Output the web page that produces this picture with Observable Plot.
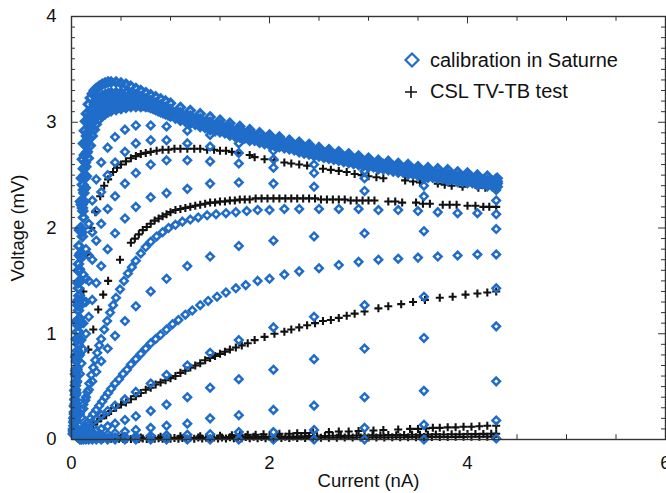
<!DOCTYPE html>
<html><head><meta charset="utf-8">
<script src="https://cdn.jsdelivr.net/npm/d3@7"></script>
<script src="https://cdn.jsdelivr.net/npm/@observablehq/plot@0.6"></script>
<style>
body{margin:0;background:#fff;font-family:"Liberation Sans",Arial,sans-serif;}
#wrap{position:relative;width:666px;height:493px;overflow:hidden;}
.lg{position:absolute;font-size:20px;line-height:20px;color:#111;white-space:nowrap;}
.ic{position:absolute;}
</style></head><body>
<div id="wrap">
  <svg class="ic" style="left:403px;top:51px" width="18" height="18"><polygon points="9,2.5 15.5,9 9,15.5 2.5,9" fill="none" stroke="#1f6dc9" stroke-width="2.2"/></svg>
  <div class="lg" style="left:430px;top:50px">calibration in Saturne</div>
  <svg class="ic" style="left:403px;top:84px" width="16" height="16"><path d="M2,8H14M8,2V14" stroke="#111" stroke-width="1.6"/></svg>
  <div class="lg" style="left:430px;top:81px">CSL TV-TB test</div>
</div>
<script>
// ---- Saturne calibration: dense curves (top band) ----
const bandX = [0.02,0.025,0.03,0.035,0.04,0.045,0.05,0.055,0.06,0.065,0.07,0.075,0.08,
 0.09,0.10,0.11,0.12,0.13,0.14,0.15,
 0.17,0.19,0.21,0.23,0.25,
 0.28,0.31,0.34,0.37,0.40,
 0.45,0.50,0.55,0.60,0.65,0.70,0.75,0.80,0.85,0.90,0.95,1.0,
 1.1,1.2,1.3,1.4,1.5,1.6,1.7,1.8,1.9,2.0,
 2.1,2.2,2.3,2.4,2.5,2.6,2.7,2.8,2.9,3.0,
 3.1,3.2,3.3,3.4,3.5,3.6,3.7,3.8,3.9,4.0,
 4.1,4.2,4.3];
const D1 = [0.10,0.20,0.32,0.46,0.62,0.78,0.95,1.12,1.30,1.48,1.66,1.83,1.98,
 2.25,2.47,2.65,2.80,2.92,3.01,3.08,
 3.17,3.23,3.27,3.30,3.32,
 3.34,3.36,3.37,3.38,3.38,
 3.38,3.37,3.36,3.34,3.32,3.30,3.28,3.26,3.24,3.22,3.20,3.18,
 3.14,3.11,3.08,3.05,3.02,2.99,2.96,2.93,2.90,2.88,
 2.86,2.83,2.81,2.79,2.76,2.74,2.72,2.70,2.68,2.66,
 2.64,2.63,2.61,2.60,2.58,2.57,2.56,2.55,2.53,2.52,
 2.50,2.49,2.47];
const D2 = [0.08,0.16,0.26,0.38,0.51,0.65,0.80,0.95,1.11,1.27,1.43,1.59,1.74,
 2.00,2.22,2.41,2.56,2.69,2.79,2.87,
 2.99,3.07,3.13,3.17,3.20,
 3.23,3.25,3.26,3.27,3.28,
 3.28,3.28,3.28,3.27,3.26,3.24,3.22,3.20,3.18,3.16,3.14,3.12,
 3.09,3.06,3.03,3.00,2.98,2.95,2.93,2.90,2.88,2.85,
 2.83,2.81,2.78,2.76,2.74,2.72,2.70,2.68,2.66,2.64,
 2.62,2.60,2.59,2.57,2.55,2.54,2.52,2.51,2.49,2.48,
 2.47,2.45,2.44];
const D3 = [0.06,0.13,0.21,0.31,0.42,0.54,0.67,0.80,0.94,1.08,1.22,1.36,1.50,
 1.76,1.99,2.19,2.36,2.50,2.62,2.71,
 2.85,2.95,3.02,3.07,3.10,
 3.13,3.16,3.18,3.19,3.20,
 3.20,3.21,3.21,3.21,3.21,3.20,3.18,3.16,3.14,3.12,3.10,3.08,
 3.05,3.02,2.99,2.96,2.94,2.91,2.89,2.86,2.84,2.82,
 2.80,2.78,2.75,2.73,2.71,2.69,2.67,2.65,2.63,2.61,
 2.59,2.58,2.56,2.54,2.53,2.51,2.50,2.48,2.47,2.46,
 2.44,2.43,2.42];
const D4 = [0.05,0.10,0.17,0.25,0.34,0.44,0.55,0.66,0.78,0.90,1.02,1.14,1.26,
 1.50,1.72,1.92,2.10,2.25,2.38,2.49,
 2.66,2.78,2.87,2.93,2.98,
 3.03,3.06,3.08,3.10,3.11,
 3.12,3.13,3.14,3.15,3.15,3.15,3.15,3.14,3.12,3.10,3.08,3.06,
 3.02,2.99,2.96,2.93,2.91,2.88,2.86,2.83,2.81,2.79,
 2.77,2.75,2.72,2.70,2.68,2.66,2.64,2.62,2.60,2.58,
 2.56,2.55,2.53,2.51,2.50,2.48,2.47,2.45,2.44,2.43,
 2.41,2.40,2.39];
// two more band curves sampled at intermediate currents
const bandX2 = [0.03,0.04,0.05,0.06,0.07,0.08,
 0.095,0.105,0.115,0.125,0.135,0.145,
 0.16,0.18,0.20,0.22,0.24,
 0.265,0.295,0.325,0.355,0.385,
 0.425,0.475,0.525,0.575,0.625,0.675,0.725,0.775,0.825,0.875,0.925,0.975,
 1.05,1.15,1.25,1.35,1.45,1.55,1.65,1.75,1.85,1.95,
 2.05,2.15,2.25,2.35,2.45,2.55,2.65,2.75,2.85,2.95,
 3.05,3.15,3.25,3.35,3.45,3.55,3.65,3.75,3.85,3.95,
 4.05,4.15,4.25];
const D5 = [0.24,0.47,0.74,1.02,1.32,1.61,
 2.00,2.22,2.41,2.56,2.68,2.78,
 2.90,3.01,3.08,3.13,3.16,
 3.18,3.20,3.22,3.23,3.24,
 3.24,3.25,3.25,3.24,3.24,3.23,3.21,3.19,3.17,3.15,3.13,3.11,
 3.08,3.05,3.02,2.99,2.96,2.94,2.91,2.89,2.87,2.84,
 2.82,2.80,2.78,2.75,2.73,2.71,2.69,2.67,2.65,2.63,
 2.61,2.60,2.58,2.56,2.55,2.53,2.52,2.50,2.49,2.48,
 2.46,2.45,2.44];
const D6 = [0.18,0.37,0.60,0.84,1.10,1.36,
 1.74,1.96,2.16,2.33,2.47,2.58,
 2.72,2.85,2.94,3.00,3.04,
 3.08,3.11,3.13,3.15,3.16,
 3.16,3.17,3.17,3.18,3.18,3.17,3.16,3.15,3.13,3.11,3.09,3.07,
 3.04,3.01,2.98,2.95,2.92,2.90,2.87,2.85,2.83,2.80,
 2.78,2.76,2.74,2.71,2.69,2.67,2.65,2.63,2.61,2.59,
 2.58,2.56,2.54,2.53,2.51,2.50,2.48,2.47,2.46,2.44,
 2.43,2.42,2.40];

// ---- Saturne: dense lower curves ----
const L7X = [0.06,0.08,0.10,0.12,0.14,0.16,0.18,0.20,0.22,0.24,0.26,0.28,0.30,0.33,0.36,0.39,0.42,0.45,0.49,0.53,
 0.57,0.61,0.65,0.70,0.75,0.80,0.86,0.92,0.98,1.05,1.12,1.20,1.28,1.37,1.46,1.56,1.66,1.77,1.88,2.00,
 2.15,2.30,2.50,2.70,2.90,3.10,3.30,3.50,3.70,3.90,4.10,4.29];
const L7Y = [0.05,0.13,0.21,0.29,0.37,0.45,0.53,0.61,0.68,0.75,0.82,0.89,0.95,1.04,1.12,1.20,1.27,1.34,1.42,1.50,
 1.57,1.63,1.69,1.76,1.82,1.87,1.92,1.96,2.00,2.03,2.06,2.08,2.10,2.12,2.13,2.14,2.15,2.16,2.17,2.17,
 2.18,2.18,2.18,2.18,2.18,2.17,2.17,2.16,2.15,2.14,2.14,2.13];
const L5X = [0.06,0.08,0.10,0.13,0.16,0.19,0.22,0.25,0.28,0.31,0.34,0.37,0.40,0.44,0.48,0.52,0.56,0.60,0.65,0.70,
 0.75,0.80,0.85,0.90,0.96,1.02,1.08,1.15,1.22,1.30,1.38,1.47,1.56,1.66,1.76,1.88,2.00,2.15,2.30,2.50,
 2.70,2.90,3.10,3.30,3.50,3.70,3.90,4.10,4.29];
const L5Y = [0.02,0.05,0.08,0.12,0.16,0.20,0.24,0.28,0.32,0.36,0.40,0.44,0.48,0.53,0.57,0.62,0.66,0.71,0.76,0.81,
 0.86,0.91,0.95,0.99,1.04,1.09,1.13,1.18,1.22,1.27,1.31,1.35,1.39,1.43,1.46,1.50,1.52,1.56,1.59,1.62,
 1.65,1.68,1.70,1.71,1.72,1.73,1.74,1.75,1.75];

// ---- Saturne: sparse curves sampled at common currents ----
const cols = [0.085,0.10,0.12,0.146,0.175,0.21,0.25,0.30,0.365,0.44,0.54,0.65,0.80,0.96,1.17,1.40,1.69,2.04,2.45,2.96,3.56,4.29];
const L0  = [0,0,0,0,0,0,0,0,0,0,0,0,0,0,0,0,0,0,0,0,0,0.01];
const L1  = [0.004,0.005,0.006,0.007,0.008,0.01,0.012,0.014,0.017,0.02,0.025,0.03,0.035,0.04,0.045,0.05,0.07,0.07,0.09,0.11,0.14,0.18];
const L2  = [0.012,0.014,0.017,0.02,0.024,0.029,0.035,0.042,0.05,0.06,0.075,0.09,0.11,0.13,0.15,0.20,0.23,0.28,0.32,0.40,0.46,0.55];
const L3  = [0.03,0.035,0.042,0.05,0.06,0.072,0.085,0.10,0.125,0.15,0.185,0.22,0.27,0.33,0.40,0.49,0.57,0.66,0.76,0.86,0.96,1.07];
const L4  = [0.07,0.08,0.095,0.115,0.14,0.165,0.195,0.23,0.27,0.32,0.38,0.45,0.53,0.61,0.70,0.82,0.94,1.06,1.16,1.27,1.35,1.43];
const L6  = [0.24,0.28,0.33,0.40,0.47,0.55,0.64,0.74,0.86,0.98,1.12,1.26,1.40,1.52,1.64,1.73,1.83,1.88,1.92,1.95,1.97,1.99];
const L8  = [0.62,0.72,0.85,1.00,1.16,1.32,1.48,1.64,1.80,1.95,2.09,2.20,2.29,2.33,2.37,2.42,2.43,2.42,2.39,2.35,2.30,2.26];
const L9  = [0.80,0.94,1.10,1.30,1.50,1.70,1.88,2.04,2.18,2.30,2.42,2.52,2.60,2.64,2.64,2.63,2.61,2.57,2.52,2.47,2.40,2.36];
const L10 = [0.95,1.10,1.30,1.52,1.74,1.96,2.16,2.34,2.50,2.62,2.72,2.80,2.83,2.83,2.80,2.77,2.71,2.65,2.60,2.54,2.47,2.42];
const L11 = [1.15,1.33,1.56,1.80,2.04,2.26,2.46,2.62,2.76,2.86,2.93,2.97,2.97,2.96,2.92,2.88,2.80,2.73,2.68,2.60,2.53,2.47];

// ---- CSL TV-TB test curves ----
const BaX = [0.12,0.16,0.20,0.24,0.29,0.33,0.37,0.42,0.46,0.50,0.55,0.60,0.65,0.70,0.75,0.80,0.86,0.92,0.98,1.04,
 1.10,1.17,1.24,1.30,1.37,1.44,1.50,1.56,1.62,1.68,1.80,1.85,1.95,2.05,2.15,2.22,2.30,2.38,2.54,2.62,
 2.70,2.78,2.86,2.93,3.00,3.08,3.15,3.37,3.45,3.52,3.70,3.77,3.84,3.95,4.11,4.18,4.29];
const BaY = [1.40,1.75,2.00,2.15,2.30,2.40,2.46,2.53,2.57,2.60,2.63,2.66,2.68,2.70,2.71,2.72,2.73,2.74,2.74,2.75,
 2.75,2.75,2.75,2.75,2.74,2.74,2.73,2.73,2.72,2.71,2.69,2.67,2.65,2.64,2.62,2.61,2.60,2.59,2.56,2.55,
 2.54,2.53,2.51,2.50,2.49,2.48,2.47,2.45,2.44,2.43,2.42,2.41,2.40,2.39,2.38,2.38,2.37];
const BbX = [0.17,0.22,0.27,0.32,0.37,0.49,0.60,0.64,0.68,0.72,0.76,0.80,0.84,0.88,0.92,0.96,1.00,1.05,1.10,1.15,
 1.20,1.25,1.30,1.35,1.40,1.45,1.50,1.55,1.60,1.65,1.70,1.75,1.80,1.86,1.92,1.98,2.04,2.10,2.16,2.22,
 2.28,2.34,2.40,2.46,2.52,2.58,2.64,2.70,2.76,2.82,2.88,2.94,3.00,3.06,3.20,3.27,3.34,3.48,3.55,3.62,
 3.75,3.82,3.89,4.00,4.08,4.16,4.22,4.29];
const BbY = [0.85,1.04,1.23,1.37,1.50,1.70,1.86,1.90,1.94,1.98,2.01,2.04,2.07,2.09,2.11,2.13,2.15,2.17,2.18,2.19,
 2.20,2.21,2.22,2.23,2.24,2.24,2.25,2.25,2.26,2.26,2.27,2.27,2.27,2.28,2.28,2.28,2.28,2.28,2.28,2.28,
 2.28,2.28,2.28,2.28,2.27,2.27,2.27,2.27,2.27,2.26,2.26,2.26,2.26,2.26,2.25,2.25,2.24,2.24,2.23,2.23,
 2.22,2.22,2.22,2.21,2.21,2.20,2.20,2.20];
const BcX = [0.22,0.26,0.30,0.35,0.40,0.45,0.50,0.55,0.60,0.65,0.70,0.75,0.80,0.85,0.90,0.95,1.00,1.05,1.10,1.15,
 1.20,1.25,1.30,1.35,1.40,1.45,1.50,1.55,1.60,1.66,1.72,1.78,1.85,1.95,2.05,2.15,2.22,2.30,2.38,2.46,
 2.54,2.62,2.70,2.78,2.86,2.96,3.10,3.20,3.33,3.45,3.57,3.72,3.85,3.98,4.10,4.20,4.29];
const BcY = [0.14,0.17,0.20,0.23,0.27,0.30,0.33,0.35,0.38,0.41,0.44,0.47,0.49,0.52,0.54,0.56,0.58,0.60,0.63,0.65,
 0.68,0.70,0.72,0.75,0.77,0.79,0.81,0.83,0.85,0.87,0.89,0.91,0.94,0.97,1.00,1.02,1.04,1.06,1.08,1.10,
 1.12,1.13,1.15,1.17,1.19,1.21,1.24,1.26,1.28,1.30,1.32,1.34,1.35,1.37,1.38,1.39,1.40];
const BdX = [0.50,0.70,0.90,1.10,1.30,1.50,1.62,1.70,1.78,1.86,1.94,2.10,2.20,2.28,2.36,2.44,2.60,2.70,2.80,2.90,
 3.05,3.15,3.30,3.42,3.50,3.58,3.65,3.72,3.80,3.88,3.96,4.04,4.12,4.20,4.29];
const BdY = [0.02,0.02,0.025,0.03,0.03,0.035,0.04,0.04,0.045,0.045,0.05,0.055,0.055,0.06,0.06,0.065,0.07,0.075,0.075,0.08,
 0.085,0.09,0.095,0.10,0.10,0.105,0.11,0.11,0.115,0.115,0.12,0.12,0.125,0.13,0.13];
const BeX = [0.25,0.32,0.40,0.48,0.56,0.64,0.72,0.80,0.88,0.96,1.04,1.12,1.20,1.28,1.36,1.44,1.52,1.60,1.68,1.76,
 1.84,1.92,2.00,2.08,2.16,2.24,2.32,2.40,2.48,2.56,2.64,2.72,2.80,2.88,2.96,3.04,3.12,3.20,3.28,3.36,
 3.44,3.52,3.60,3.68,3.76,3.84,3.92,4.00,4.08,4.16,4.24,4.29];
const BeY = [0.005,0.004,0.006,0.008,0.007,0.009,0.01,0.012,0.011,0.013,0.015,0.014,0.016,0.018,0.017,0.019,0.02,0.022,0.021,0.023,
 0.025,0.024,0.026,0.028,0.027,0.029,0.03,0.032,0.031,0.033,0.035,0.034,0.036,0.038,0.037,0.039,0.04,0.042,0.041,0.043,
 0.045,0.044,0.046,0.048,0.047,0.049,0.05,0.052,0.051,0.053,0.055,0.055];
const BfX = [0.30,0.36,0.44,0.52,0.60,0.68,0.76,0.84,0.92,1.00,1.08,1.16,1.24,1.32,1.40,1.48,1.56,1.64,1.72,1.80,
 1.88,1.96,2.04,2.12,2.20,2.28,2.36,2.44,2.52,2.60,2.68,2.76,2.84,2.92,3.00,3.08,3.16,3.24,3.32,3.40,
 3.48,3.56,3.64,3.72,3.80,3.88,3.96,4.04,4.12,4.20,4.27];
const BfY = [0.002,0.003,0.003,0.004,0.004,0.005,0.005,0.006,0.006,0.007,0.007,0.008,0.008,0.009,0.009,0.01,0.01,0.011,0.011,0.012,
 0.012,0.013,0.013,0.014,0.014,0.015,0.015,0.016,0.016,0.017,0.017,0.018,0.018,0.019,0.019,0.02,0.02,0.021,0.021,0.022,
 0.022,0.023,0.023,0.024,0.024,0.025,0.025,0.026,0.026,0.027,0.027];

// ---- axis ticks ----
const xTickLabels = [0,2,4,6];
const yTickLabels = [0,1,2,3,4];
const xMinor = [0.5,1,1.5,2.5,3,3.5,4.5,5,5.5];
const yMinor = [0.1,0.2,0.3,0.4,0.5,0.6,0.7,0.8,0.9,1.1,1.2,1.3,1.4,1.5,1.6,1.7,1.8,1.9,
 2.1,2.2,2.3,2.4,2.5,2.6,2.7,2.8,2.9,3.1,3.2,3.3,3.4,3.5,3.6,3.7,3.8,3.9];

const zip = (xs, ys) => xs.map((x, i) => ({x, y: ys[i]}));
const band = [
  ...zip(bandX, D1), ...zip(bandX, D2), ...zip(bandX, D3), ...zip(bandX, D4),
  ...zip(bandX2, D5), ...zip(bandX2, D6)
];
const blue = [
  ...zip(L7X, L7Y), ...zip(L5X, L5Y),
  ...[L0, L1, L2, L3, L4, L6, L8, L9, L10, L11].flatMap(c => zip(cols, c))
];
const black = [...zip(BaX, BaY), ...zip(BbX, BbY), ...zip(BcX, BcY), ...zip(BdX, BdY), ...zip(BeX, BeY), ...zip(BfX, BfY)];

const BLUE = "#1f6dc9", AX = "#333";
const chart = Plot.plot({
  width: 666, height: 493,
  marginLeft: 71, marginRight: 1, marginTop: 16, marginBottom: 54,
  x: {domain: [0, 6]},
  y: {domain: [0, 4]},
  style: {fontFamily: "'Liberation Sans', Arial, sans-serif", fontSize: "18px", color: "#111", background: "white", overflow: "visible"},
  marks: [
    Plot.dot(black, {x: "x", y: "y", symbol: "plus", r: 2.7, stroke: "#111", strokeWidth: 2.1}),
    Plot.dot(blue, {x: "x", y: "y", symbol: "diamond2", r: 3.4, stroke: BLUE, strokeWidth: 2.5, fill: "none"}),
    Plot.dot(band, {x: "x", y: "y", symbol: "diamond2", r: 3.6, stroke: BLUE, strokeWidth: 3.2, fill: "none"}),
    Plot.ruleX(xTickLabels, {y1: 0, y2: 0.07, stroke: AX}),
    Plot.ruleX(xTickLabels, {y1: 4, y2: 3.93, stroke: AX}),
    Plot.ruleX(xMinor, {y1: 0, y2: 0.045, stroke: AX}),
    Plot.ruleX(xMinor, {y1: 4, y2: 3.955, stroke: AX}),
    Plot.ruleY(yTickLabels, {x1: 0, x2: 0.07, stroke: AX}),
    Plot.ruleY(yTickLabels, {x1: 6, x2: 5.93, stroke: AX}),
    Plot.ruleY(yMinor, {x1: 0, x2: 0.04, stroke: AX}),
    Plot.ruleY(yMinor, {x1: 6, x2: 5.96, stroke: AX}),
    Plot.frame({stroke: AX, strokeWidth: 1.4}),
    Plot.axisX(xTickLabels, {tickSize: 0, tickPadding: 16, fontSize: 18.5, tickFormat: d => String(d), label: null}),
    Plot.axisY(yTickLabels, {tickSize: 0, tickPadding: 15, fontSize: 18.5, tickFormat: d => String(d), label: null}),
    Plot.text(["Current (nA)"], {frameAnchor: "bottom", dy: 42, lineAnchor: "middle", textAnchor: "middle", fontSize: 18.5}),
    Plot.text(["Voltage (mV)"], {frameAnchor: "left", dx: -53, rotate: -90, lineAnchor: "middle", textAnchor: "middle", fontSize: 18.5})
  ]
});
chart.style.position = "absolute";
chart.style.left = "0";
chart.style.top = "0";
const wrap = document.getElementById("wrap");
wrap.insertBefore(chart, wrap.firstChild);
</script>
</body></html>
